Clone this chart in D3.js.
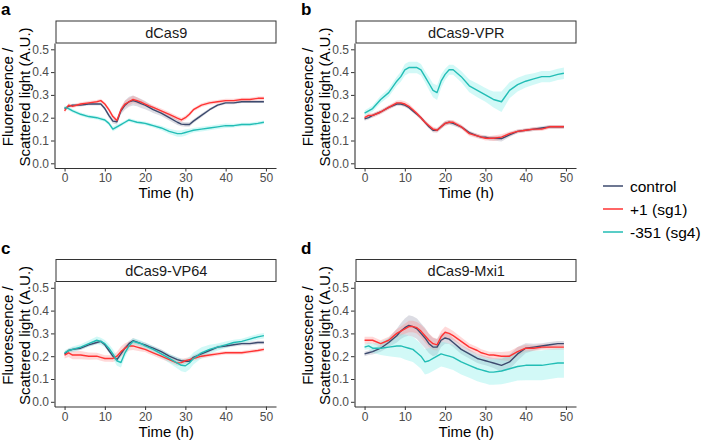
<!DOCTYPE html>
<html><head><meta charset="utf-8">
<script src="https://cdn.jsdelivr.net/npm/d3@7"></script>
<style>body{margin:0;background:#fff}svg{display:block}</style></head>
<body><svg id="chart" width="705" height="440"></svg>
<script>
// ---- data ----
const hours = [0,1,2,4,6,8,9,10,11,12,13,14,15,16,17,18,19,20,21,22,24,26,28,29,30,31,32,34,36,38,40,42,44,46,48,49.5];
const panelTitles = ["dCas9","dCas9-VPR","dCas9-VP64","dCas9-Mxi1"];
const panelLetters = ["a","b","c","d"];
const seriesNames = ["control","+1 (sg1)","-351 (sg4)"];
const seriesColors = ["#3C4A6E","#FF3333","#22BDB5"];
const xTicks = [0,10,20,30,40,50];
const yTicks = [0,0.1,0.2,0.3,0.4,0.5];

// panel a: dCas9
const aControl = [0.24,0.25,0.255,0.255,0.26,0.26,0.26,0.24,0.21,0.185,0.182,0.23,0.255,0.27,0.275,0.27,0.262,0.255,0.245,0.235,0.22,0.2,0.18,0.172,0.17,0.17,0.185,0.21,0.235,0.255,0.265,0.265,0.27,0.27,0.27,0.27];
const aSg1     = [0.23,0.255,0.25,0.26,0.265,0.27,0.275,0.26,0.235,0.205,0.188,0.235,0.26,0.27,0.28,0.275,0.268,0.26,0.252,0.245,0.23,0.215,0.198,0.19,0.2,0.215,0.235,0.255,0.265,0.27,0.275,0.275,0.28,0.28,0.285,0.285];
const aSg4     = [0.245,0.24,0.23,0.215,0.205,0.2,0.195,0.19,0.175,0.15,0.16,0.17,0.18,0.19,0.185,0.18,0.178,0.175,0.17,0.165,0.155,0.14,0.13,0.13,0.135,0.14,0.145,0.15,0.155,0.16,0.165,0.165,0.17,0.17,0.175,0.18];
const aControlSd = [0.006,0.006,0.006,0.006,0.006,0.006,0.006,0.008,0.01,0.01,0.012,0.015,0.02,0.022,0.022,0.02,0.02,0.018,0.016,0.014,0.012,0.012,0.012,0.01,0.01,0.01,0.008,0.008,0.006,0.006,0.006,0.006,0.006,0.006,0.006,0.006];
const aSg1Sd     = [0.008,0.008,0.008,0.008,0.008,0.008,0.008,0.008,0.01,0.01,0.01,0.012,0.014,0.016,0.016,0.015,0.012,0.01,0.01,0.01,0.01,0.01,0.01,0.01,0.01,0.01,0.008,0.008,0.008,0.008,0.008,0.008,0.008,0.008,0.008,0.008];
const aSg4Sd     = [0.008,0.008,0.008,0.008,0.008,0.008,0.008,0.008,0.008,0.01,0.01,0.008,0.008,0.008,0.008,0.008,0.008,0.008,0.008,0.008,0.01,0.012,0.014,0.014,0.014,0.012,0.01,0.01,0.01,0.01,0.01,0.008,0.008,0.008,0.008,0.008];

// panel b: dCas9-VPR
const bControl = [0.195,0.2,0.21,0.225,0.245,0.26,0.26,0.255,0.245,0.23,0.215,0.2,0.18,0.16,0.145,0.145,0.16,0.175,0.18,0.175,0.16,0.135,0.12,0.115,0.115,0.11,0.11,0.108,0.125,0.14,0.145,0.15,0.155,0.16,0.16,0.16];
const bSg1     = [0.2,0.21,0.21,0.225,0.245,0.265,0.265,0.26,0.25,0.235,0.218,0.2,0.18,0.165,0.15,0.145,0.16,0.175,0.18,0.18,0.16,0.13,0.12,0.115,0.11,0.11,0.11,0.115,0.13,0.14,0.145,0.15,0.15,0.16,0.16,0.16];
const bSg4     = [0.22,0.23,0.24,0.28,0.31,0.36,0.38,0.41,0.42,0.42,0.42,0.41,0.38,0.35,0.32,0.31,0.36,0.39,0.41,0.41,0.38,0.34,0.32,0.31,0.3,0.29,0.28,0.27,0.32,0.345,0.36,0.37,0.38,0.38,0.39,0.395];
const bControlSd = [0.008,0.008,0.008,0.008,0.008,0.008,0.008,0.008,0.008,0.008,0.008,0.008,0.008,0.008,0.01,0.01,0.01,0.01,0.01,0.01,0.008,0.008,0.008,0.008,0.008,0.01,0.01,0.012,0.01,0.008,0.008,0.008,0.008,0.008,0.008,0.008];
const bSg1Sd     = [0.01,0.01,0.01,0.01,0.01,0.01,0.012,0.012,0.012,0.01,0.01,0.01,0.01,0.01,0.01,0.01,0.01,0.01,0.01,0.01,0.01,0.01,0.01,0.01,0.01,0.01,0.012,0.012,0.01,0.008,0.008,0.008,0.008,0.008,0.008,0.008];
const bSg4Sd     = [0.012,0.012,0.014,0.016,0.018,0.02,0.022,0.025,0.025,0.025,0.025,0.025,0.025,0.028,0.03,0.032,0.03,0.025,0.022,0.022,0.025,0.028,0.03,0.03,0.03,0.032,0.035,0.045,0.035,0.03,0.028,0.025,0.025,0.025,0.025,0.025];

// panel c: dCas9-VP64
const cControl = [0.21,0.225,0.23,0.235,0.25,0.26,0.265,0.25,0.225,0.2,0.185,0.21,0.235,0.255,0.268,0.262,0.255,0.25,0.242,0.235,0.22,0.2,0.185,0.18,0.178,0.178,0.195,0.21,0.225,0.24,0.245,0.25,0.255,0.255,0.26,0.26];
const cSg1     = [0.205,0.215,0.205,0.205,0.2,0.2,0.195,0.19,0.19,0.19,0.2,0.22,0.235,0.245,0.245,0.24,0.235,0.23,0.222,0.215,0.2,0.185,0.17,0.172,0.18,0.185,0.19,0.2,0.205,0.21,0.215,0.215,0.215,0.22,0.225,0.23];
const cSg4     = [0.215,0.225,0.23,0.24,0.255,0.27,0.265,0.255,0.235,0.21,0.18,0.172,0.215,0.245,0.265,0.26,0.255,0.245,0.238,0.23,0.21,0.19,0.17,0.16,0.158,0.17,0.19,0.215,0.23,0.24,0.25,0.26,0.265,0.275,0.285,0.29];
const cControlSd = [0.008,0.008,0.008,0.008,0.008,0.008,0.008,0.008,0.008,0.01,0.01,0.012,0.012,0.012,0.012,0.01,0.01,0.01,0.01,0.01,0.01,0.01,0.01,0.01,0.01,0.01,0.01,0.01,0.008,0.008,0.008,0.008,0.008,0.008,0.008,0.008];
const cSg1Sd     = [0.015,0.018,0.018,0.018,0.016,0.015,0.015,0.014,0.014,0.015,0.018,0.022,0.022,0.02,0.018,0.016,0.014,0.012,0.012,0.012,0.012,0.012,0.012,0.012,0.012,0.01,0.01,0.01,0.008,0.008,0.008,0.008,0.008,0.008,0.008,0.008];
const cSg4Sd     = [0.01,0.01,0.012,0.012,0.014,0.016,0.016,0.016,0.018,0.02,0.022,0.022,0.02,0.016,0.014,0.014,0.014,0.014,0.014,0.014,0.016,0.02,0.024,0.026,0.028,0.028,0.026,0.024,0.02,0.016,0.014,0.012,0.012,0.012,0.012,0.012];

// panel d: dCas9-Mxi1
const dControl = [0.21,0.215,0.22,0.235,0.26,0.29,0.31,0.325,0.335,0.33,0.32,0.3,0.28,0.255,0.24,0.24,0.27,0.28,0.275,0.26,0.23,0.21,0.19,0.185,0.18,0.175,0.17,0.16,0.175,0.21,0.235,0.24,0.245,0.25,0.255,0.255];
const dSg1     = [0.27,0.27,0.27,0.255,0.27,0.3,0.31,0.32,0.33,0.33,0.325,0.31,0.29,0.27,0.255,0.25,0.285,0.305,0.3,0.29,0.265,0.24,0.225,0.215,0.21,0.205,0.205,0.2,0.2,0.22,0.235,0.235,0.24,0.24,0.24,0.24];
const dSg4     = [0.24,0.245,0.235,0.235,0.24,0.245,0.245,0.24,0.235,0.23,0.215,0.2,0.175,0.18,0.19,0.2,0.21,0.205,0.2,0.195,0.175,0.16,0.145,0.14,0.135,0.13,0.13,0.135,0.145,0.155,0.16,0.16,0.16,0.165,0.17,0.17];
const dControlSd = [0.01,0.01,0.012,0.015,0.02,0.03,0.035,0.04,0.045,0.045,0.045,0.045,0.045,0.042,0.04,0.035,0.03,0.025,0.022,0.02,0.02,0.02,0.02,0.02,0.02,0.02,0.022,0.028,0.032,0.03,0.022,0.015,0.012,0.012,0.012,0.012];
const dSg1Sd     = [0.015,0.015,0.015,0.015,0.015,0.018,0.02,0.022,0.025,0.025,0.025,0.028,0.03,0.03,0.028,0.025,0.025,0.025,0.022,0.02,0.018,0.016,0.015,0.015,0.015,0.015,0.015,0.018,0.022,0.02,0.015,0.012,0.012,0.012,0.012,0.012];
const dSg4Sd     = [0.012,0.015,0.02,0.03,0.04,0.05,0.052,0.055,0.055,0.055,0.055,0.055,0.055,0.055,0.055,0.055,0.055,0.055,0.055,0.055,0.055,0.055,0.055,0.055,0.055,0.055,0.055,0.058,0.06,0.062,0.065,0.065,0.065,0.065,0.065,0.065];

const panelSeries = [
  [[aControl,aControlSd],[aSg1,aSg1Sd],[aSg4,aSg4Sd]],
  [[bControl,bControlSd],[bSg1,bSg1Sd],[bSg4,bSg4Sd]],
  [[cControl,cControlSd],[cSg1,cSg1Sd],[cSg4,cSg4Sd]],
  [[dControl,dControlSd],[dSg1,dSg1Sd],[dSg4,dSg4Sd]]
];

// ---- drawing ----
const svg = d3.select("#chart");
const FONT = "'Liberation Sans', Arial, sans-serif";
const ribbonColors = ["#9A9AB0","#FF8080","#7FEFE8"];
const ribbonOpacity = [0.35,0.3,0.35];

panelTitles.forEach((title, pi) => {
  const ox = (pi % 2) * 300;
  const oy = Math.floor(pi / 2) * 238.5;
  const g = svg.append("g").attr("transform", `translate(${ox},${oy})`);

  const plotTop = 43, plotBottom = 168, plotLeft = 54.5, plotRight = 276;
  const x = d3.scaleLinear().domain([-2.5, 52.5]).range([plotLeft, plotRight]);
  const y = d3.scaleLinear().domain([(163.3 - plotBottom) / 228, (163.3 - plotTop) / 228]).range([plotBottom, plotTop]);

  // letter
  g.append("text").attr("x", 1).attr("y", 15).text(panelLetters[pi])
    .attr("font-family", FONT).attr("font-weight", "bold").attr("font-size", 17).attr("fill", "#000");

  // strip
  g.append("rect").attr("x", plotLeft + 1.5).attr("y", 21).attr("width", plotRight - plotLeft - 1.5).attr("height", plotTop - 21)
    .attr("fill", "#fff").attr("stroke", "#333").attr("stroke-width", 1);
  g.append("text").attr("x", (plotLeft + plotRight) / 2 + 1).attr("y", 37.5).attr("text-anchor", "middle")
    .attr("font-family", FONT).attr("font-size", 14.5).attr("fill", "#1a1a1a").text(title);

  const series = panelSeries[pi];
  // ribbons
  series.forEach(([vals, sd], si) => {
    const pts = hours.map((h, i) => ({h, lo: vals[i] - sd[i], hi: vals[i] + sd[i]}));
    g.append("path").datum(pts)
      .attr("d", d3.area().x(d => x(d.h)).y0(d => y(d.lo)).y1(d => y(d.hi)))
      .attr("fill", ribbonColors[si]).attr("fill-opacity", ribbonOpacity[si]).attr("stroke", "none");
  });
  // lines
  series.forEach(([vals], si) => {
    const pts = hours.map((h, i) => ({h, v: vals[i]}));
    g.append("path").datum(pts)
      .attr("d", d3.line().x(d => x(d.h)).y(d => y(d.v)))
      .attr("fill", "none").attr("stroke", seriesColors[si]).attr("stroke-width", 1.4).attr("stroke-linejoin", "round");
  });

  // axes
  const yAxis = g.append("g").attr("transform", `translate(${plotLeft},0)`)
    .call(d3.axisLeft(y).tickValues(yTicks).tickFormat(d3.format(".1f")).tickSize(3.5).tickPadding(2).tickSizeOuter(0));
  const xAxis = g.append("g").attr("transform", `translate(0,${plotBottom})`)
    .call(d3.axisBottom(x).tickValues(xTicks).tickFormat(d3.format("d")).tickSize(3.5).tickPadding(2).tickSizeOuter(0));
  [yAxis, xAxis].forEach(ax => {
    ax.select(".domain").attr("stroke", "#333").attr("stroke-width", 1.1);
    ax.selectAll(".tick line").attr("stroke", "#333");
    ax.selectAll(".tick text").attr("fill", "#4D4D4D").attr("font-family", FONT).attr("font-size", 12);
  });

  // axis titles
  g.append("text").attr("x", (plotLeft + plotRight) / 2 + 1).attr("y", 198).attr("text-anchor", "middle")
    .attr("font-family", FONT).attr("font-size", 15).attr("fill", "#000").text("Time (h)");
  const yt = g.append("text").attr("transform", "translate(0,97) rotate(-90)").attr("text-anchor", "middle")
    .attr("font-family", FONT).attr("font-size", 15).attr("fill", "#000");
  yt.append("tspan").attr("x", 0).attr("y", 13).text("Fluorescence /");
  yt.append("tspan").attr("x", 0).attr("y", 30).text("Scattered light (A.U.)");
});

// legend
const legend = svg.append("g");
seriesNames.forEach((name, i) => {
  const ly = 186 + i * 23;
  legend.append("line").attr("x1", 603).attr("x2", 623).attr("y1", ly).attr("y2", ly)
    .attr("stroke", seriesColors[i]).attr("stroke-width", 1.5);
  legend.append("text").attr("x", 630).attr("y", ly + 5.5).attr("font-family", FONT).attr("font-size", 15.5)
    .attr("fill", "#000").text(name);
});
</script>
</body></html>
